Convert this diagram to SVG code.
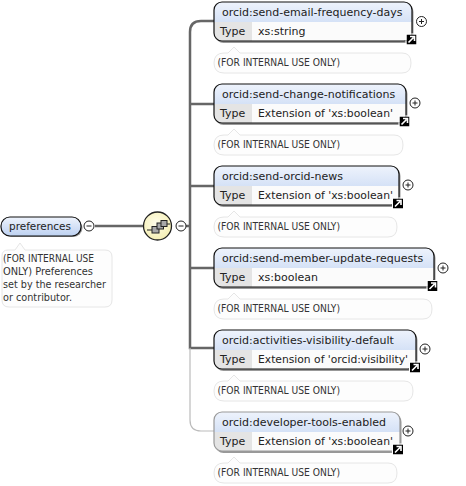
<svg xmlns="http://www.w3.org/2000/svg" width="466" height="486" viewBox="0 0 466 486">
<style>
text{font-family:"DejaVu Sans","Liberation Sans",sans-serif;font-size:11px;fill:#222}
.d{font-size:10px;fill:#333}
.o{fill:none;stroke:#111;stroke-width:1.2}
.of{fill:none;stroke:#999;stroke-width:1.2}
.sh{fill:#999}
.k{fill:#e4e4e4}
.w{fill:#fbfbfb}
.doc{fill:#fdfdfd;stroke:#e6e6e6;stroke-width:1}
.c{fill:none;stroke:#666;stroke-width:2.5}
.l{fill:none;stroke:#bbb;stroke-width:1.2}
.t{fill:#fff;stroke:#222;stroke-width:1}
.s{stroke:#222;stroke-width:1;fill:none}
.hdr{fill:url(#hd)}
.r{fill:#a8a8a8;stroke:#222;stroke-width:1}
</style>
<defs>
<linearGradient id="hd" x1="0" y1="0" x2="0" y2="1"><stop offset="0" stop-color="#eef3fc"/><stop offset="1" stop-color="#bdd1f1"/></linearGradient>
<radialGradient id="seq" cx=".45" cy=".4" r=".6"><stop offset="0" stop-color="#fffdea"/><stop offset="1" stop-color="#f5efb4"/></radialGradient>
<g id="plus"><circle r="5" class="t"/><path d="M-2.5 0H2.5M0-2.5V2.5" class="s"/></g>
<g id="minus"><circle r="5" class="t"/><path d="M-2.5 0H2.5" class="s"/></g>
<g id="go"><rect x="-5" y="-5" width="10" height="10" fill="#000"/><rect x="-5.5" y="-5.5" width="11" height="11" fill="none" stroke="#fff" stroke-width="1"/><path d="M-3 3L2-2M-1.5-3H3V1.5" stroke="#fff" stroke-width="1.6" fill="none"/></g>
</defs>
<g id="connectors">
<path class="c" d="M95 226H144"/>
<path class="c" d="M190 226V32Q190 21 201 21H214"/>
<path class="c" d="M190 226V348H214"/>
<path class="c" d="M190 104H214M190 186H214M190 268H214M186 226H190"/>
<path class="l" d="M190 348V420Q190 431 201 431H214"/>
</g>
<g id="preferences">
<rect class="sh" x="2.5" y="219" width="80" height="18" rx="9"/>
<rect x="1" y="217" width="80" height="19" rx="9" fill="url(#hd)" stroke="#111" stroke-width="1.2"/>
<text x="9" y="230" textLength="62" lengthAdjust="spacingAndGlyphs">preferences</text>
<use href="#minus" x="89" y="226"/>
<path class="doc" d="M8 250H15L20 243L25 250H105Q112 250 112 257V300Q112 307 105 307H9Q2 307 2 300V256Q2 250 8 250Z"/>
<text class="d" x="3" y="262" textLength="91" lengthAdjust="spacingAndGlyphs">(FOR INTERNAL USE</text>
<text class="d" x="3" y="275" textLength="90" lengthAdjust="spacingAndGlyphs">ONLY) Preferences</text>
<text class="d" x="3" y="288" textLength="103" lengthAdjust="spacingAndGlyphs">set by the researcher</text>
<text class="d" x="3" y="301" textLength="69" lengthAdjust="spacingAndGlyphs">or contributor.</text>
</g>
<g id="sequence">
<circle cx="157.5" cy="226" r="14" fill="url(#seq)" stroke="#222" stroke-width="1.3"/>
<path d="M147 230H152M167 224H170" stroke="#222"/>
<rect class="r" x="152" y="226.5" width="7" height="6.5"/>
<rect class="r" x="157" y="223" width="6.5" height="6"/>
<rect class="r" x="161" y="220.5" width="6" height="6"/>
<use href="#minus" x="181" y="226"/>
</g>
<g id="n1">
<rect class="sh" x="215.5" y="4" width="198" height="39" rx="8"/>
<rect class="hdr" x="214" y="2" width="198" height="39" rx="8"/>
<path d="M214 22H412V33Q412 41 404 41H222Q214 41 214 33Z" class="w"/><path d="M214 22H252V41H222Q214 41 214 33Z" class="k"/>
<rect class="o" x="214" y="2" width="198" height="39" rx="8"/>
<text x="222" y="16">orcid:send-email-frequency-days</text>
<text x="220" y="35">Type</text><text x="258" y="35">xs:string</text>
<use href="#plus" x="421.5" y="21.5"/><use href="#go" x="411.5" y="39.5"/>
<path class="doc" d="M224 53H228L234 47L240 53H402Q411 53 411 63Q411 73 402 73H224Q214 73 214 63Q214 53 224 53Z"/>
<text class="d" x="217.5" y="66" textLength="122.5" lengthAdjust="spacingAndGlyphs">(FOR INTERNAL USE ONLY)</text>
</g>
<g id="n2">
<rect class="sh" x="215.5" y="86" width="192" height="39" rx="8"/>
<rect class="hdr" x="214" y="84" width="192" height="39" rx="8"/>
<path d="M214 104H406V115Q406 123 398 123H222Q214 123 214 115Z" class="w"/><path d="M214 104H252V123H222Q214 123 214 115Z" class="k"/>
<rect class="o" x="214" y="84" width="192" height="39" rx="8"/>
<text x="222" y="98">orcid:send-change-notifications</text>
<text x="220" y="117">Type</text><text x="258" y="117" textLength="135" lengthAdjust="spacingAndGlyphs">Extension of 'xs:boolean'</text>
<use href="#plus" x="415" y="103"/><use href="#go" x="404.5" y="121.5"/>
<path class="doc" d="M224 135H228L234 129L240 135H394Q403 135 403 145Q403 155 394 155H224Q214 155 214 145Q214 135 224 135Z"/>
<text class="d" x="217.5" y="148" textLength="122.5" lengthAdjust="spacingAndGlyphs">(FOR INTERNAL USE ONLY)</text>
</g>
<g id="n3">
<rect class="sh" x="215.5" y="168" width="185" height="39" rx="8"/>
<rect class="hdr" x="214" y="166" width="185" height="39" rx="8"/>
<path d="M214 186H399V197Q399 205 391 205H222Q214 205 214 197Z" class="w"/><path d="M214 186H252V205H222Q214 205 214 197Z" class="k"/>
<rect class="o" x="214" y="166" width="185" height="39" rx="8"/>
<text x="222" y="180">orcid:send-orcid-news</text>
<text x="220" y="199">Type</text><text x="258" y="199" textLength="135" lengthAdjust="spacingAndGlyphs">Extension of 'xs:boolean'</text>
<use href="#plus" x="408" y="185"/><use href="#go" x="398" y="203.5"/>
<path class="doc" d="M224 217H228L234 211L240 217H388Q397 217 397 227Q397 237 388 237H224Q214 237 214 227Q214 217 224 217Z"/>
<text class="d" x="217.5" y="230" textLength="122.5" lengthAdjust="spacingAndGlyphs">(FOR INTERNAL USE ONLY)</text>
</g>
<g id="n4">
<rect class="sh" x="215.5" y="250" width="220" height="39" rx="8"/>
<rect class="hdr" x="214" y="248" width="220" height="39" rx="8"/>
<path d="M214 268H434V279Q434 287 426 287H222Q214 287 214 279Z" class="w"/><path d="M214 268H252V287H222Q214 287 214 279Z" class="k"/>
<rect class="o" x="214" y="248" width="220" height="39" rx="8"/>
<text x="222" y="262">orcid:send-member-update-requests</text>
<text x="220" y="281">Type</text><text x="258" y="281">xs:boolean</text>
<use href="#plus" x="443" y="268"/><use href="#go" x="432.5" y="286"/>
<path class="doc" d="M224 299H228L234 293L240 299H423Q432 299 432 309Q432 319 423 319H224Q214 319 214 309Q214 299 224 299Z"/>
<text class="d" x="217.5" y="312" textLength="122.5" lengthAdjust="spacingAndGlyphs">(FOR INTERNAL USE ONLY)</text>
</g>
<g id="n5">
<rect class="sh" x="215.5" y="332" width="202" height="39" rx="8"/>
<rect class="hdr" x="214" y="330" width="202" height="39" rx="8"/>
<path d="M214 350H416V361Q416 369 408 369H222Q214 369 214 361Z" class="w"/><path d="M214 350H252V369H222Q214 369 214 361Z" class="k"/>
<rect class="o" x="214" y="330" width="202" height="39" rx="8"/>
<text x="222" y="344">orcid:activities-visibility-default</text>
<text x="220" y="363">Type</text><text x="258" y="363" textLength="150" lengthAdjust="spacingAndGlyphs">Extension of 'orcid:visibility'</text>
<use href="#plus" x="425" y="349"/><use href="#go" x="415" y="367.5"/>
<path class="doc" d="M224 381H228L234 375L240 381H404Q413 381 413 391Q413 401 404 401H224Q214 401 214 391Q214 381 224 381Z"/>
<text class="d" x="217.5" y="394" textLength="122.5" lengthAdjust="spacingAndGlyphs">(FOR INTERNAL USE ONLY)</text>
</g>
<g id="n6">
<rect class="sh" x="215.5" y="414" width="186" height="39" rx="8"/>
<rect class="hdr" x="214" y="412" width="186" height="39" rx="8"/>
<path d="M214 432H400V443Q400 451 392 451H222Q214 451 214 443Z" class="w"/><path d="M214 432H252V451H222Q214 451 214 443Z" class="k"/>
<rect class="of" x="214" y="412" width="186" height="39" rx="8"/>
<text x="222" y="426">orcid:developer-tools-enabled</text>
<text x="220" y="445">Type</text><text x="258" y="445" textLength="135" lengthAdjust="spacingAndGlyphs">Extension of 'xs:boolean'</text>
<use href="#plus" x="408" y="431"/><use href="#go" x="398" y="449.5"/>
<path class="doc" d="M224 463H228L234 457L240 463H388Q397 463 397 473Q397 483 388 483H224Q214 483 214 473Q214 463 224 463Z"/>
<text class="d" x="217.5" y="476" textLength="122.5" lengthAdjust="spacingAndGlyphs">(FOR INTERNAL USE ONLY)</text>
</g>
</svg>
